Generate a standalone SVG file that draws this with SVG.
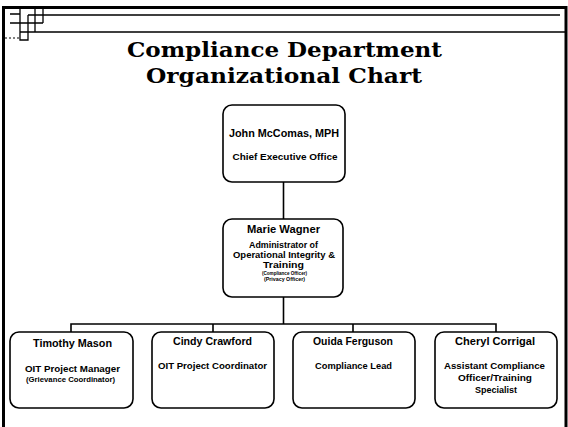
<svg xmlns="http://www.w3.org/2000/svg" width="568" height="427" viewBox="0 0 568 427">
<style>
.frame{fill:none;stroke:#000;stroke-width:3}
.deco{fill:none;stroke:#000;stroke-width:1.3}
.box{fill:#fff;stroke:#000;stroke-width:1.6}
.title{font-family:"DejaVu Serif","Liberation Serif",serif;font-weight:bold;font-size:21px;fill:#000;text-anchor:middle}
.name{font-family:"Liberation Sans",Arial,sans-serif;font-weight:bold;font-size:10px;fill:#000;text-anchor:middle}
.role{font-family:"Liberation Sans",Arial,sans-serif;font-weight:bold;font-size:8.5px;fill:#000;text-anchor:middle}
.small{font-family:"Liberation Sans",Arial,sans-serif;font-weight:bold;font-size:6.5px;fill:#000;text-anchor:middle}
.tiny{font-family:"Liberation Sans",Arial,sans-serif;font-weight:bold;font-size:5px;fill:#000;text-anchor:middle}
.conn{fill:none;stroke:#000;stroke-width:1.6}
</style>
<rect width="568" height="427" fill="#fff"/>
<g id="frame">
<path class="frame" d="M3.5,427 V7.5 H566 V427"/>
<path class="deco" d="M28,15 H560 M20,32 H566 M10,23 H43 M10,14 H20 V23 M20,9 V40 H28 V15 M35,9 V32 M43,9 V23"/>
<path d="M5,38 H20" stroke="#000" stroke-width="1" stroke-dasharray="2 2"/>
</g>
<g id="title">
<text class="title" x="284.5" y="57" textLength="315" lengthAdjust="spacingAndGlyphs">Compliance Department</text>
<text class="title" x="284" y="83" textLength="276" lengthAdjust="spacingAndGlyphs">Organizational Chart</text>
</g>
<g id="connectors">
<path class="conn" d="M283.5,182 V219" stroke-width="2"/>
<path class="conn" d="M283.5,297 V324" stroke-width="2"/>
<path class="conn" d="M71,332 V324 H496 V332"/>
<path class="conn" d="M213,324 V332 M353,324 V332"/>
</g>
<g id="node-john">
<rect class="box" x="223" y="105" width="122" height="77" rx="9"/>
<text class="name" x="284" y="137" textLength="110" lengthAdjust="spacingAndGlyphs">John McComas, MPH</text>
<text class="role" x="285" y="160" textLength="105" lengthAdjust="spacingAndGlyphs">Chief Executive Office</text>
</g>
<g id="node-marie">
<rect class="box" x="223" y="219" width="120" height="78" rx="9"/>
<text class="name" x="283.5" y="233" textLength="73" lengthAdjust="spacingAndGlyphs">Marie Wagner</text>
<text class="role" x="283.5" y="248" textLength="69" lengthAdjust="spacingAndGlyphs">Administrator of</text>
<text class="role" x="284" y="258" textLength="102" lengthAdjust="spacingAndGlyphs">Operational Integrity &amp;</text>
<text class="role" x="283.5" y="268" textLength="41" lengthAdjust="spacingAndGlyphs">Training</text>
<text class="tiny" x="284.5" y="275" textLength="45" lengthAdjust="spacingAndGlyphs">(Compliance Officer)</text>
<text class="tiny" x="284.5" y="281" textLength="41" lengthAdjust="spacingAndGlyphs">(Privacy Officer)</text>
</g>
<g id="node-timothy">
<rect class="box" x="10" y="332" width="123" height="76" rx="9"/>
<text class="name" x="72.5" y="347" textLength="79" lengthAdjust="spacingAndGlyphs">Timothy Mason</text>
<text class="role" x="72.5" y="372" textLength="95" lengthAdjust="spacingAndGlyphs">OIT Project Manager</text>
<text class="small" x="70.5" y="382" textLength="89" lengthAdjust="spacingAndGlyphs">(Grievance Coordinator)</text>
</g>
<g id="node-cindy">
<rect class="box" x="152" y="332" width="122" height="76" rx="9"/>
<text class="name" x="212.5" y="345" textLength="79" lengthAdjust="spacingAndGlyphs">Cindy Crawford</text>
<text class="role" x="212.5" y="369" textLength="109" lengthAdjust="spacingAndGlyphs">OIT Project Coordinator</text>
</g>
<g id="node-ouida">
<rect class="box" x="293" y="332" width="122" height="76" rx="9"/>
<text class="name" x="353" y="345" textLength="80" lengthAdjust="spacingAndGlyphs">Ouida Ferguson</text>
<text class="role" x="353.5" y="369" textLength="77" lengthAdjust="spacingAndGlyphs">Compliance Lead</text>
</g>
<g id="node-cheryl">
<rect class="box" x="435" y="332" width="122" height="76" rx="9"/>
<text class="name" x="495" y="345" textLength="80" lengthAdjust="spacingAndGlyphs">Cheryl Corrigal</text>
<text class="role" x="494.5" y="369" textLength="101" lengthAdjust="spacingAndGlyphs">Assistant Compliance</text>
<text class="role" x="495" y="381" textLength="74" lengthAdjust="spacingAndGlyphs">Officer/Training</text>
<text class="role" x="496" y="393" textLength="42" lengthAdjust="spacingAndGlyphs">Specialist</text>
</g>
</svg>
